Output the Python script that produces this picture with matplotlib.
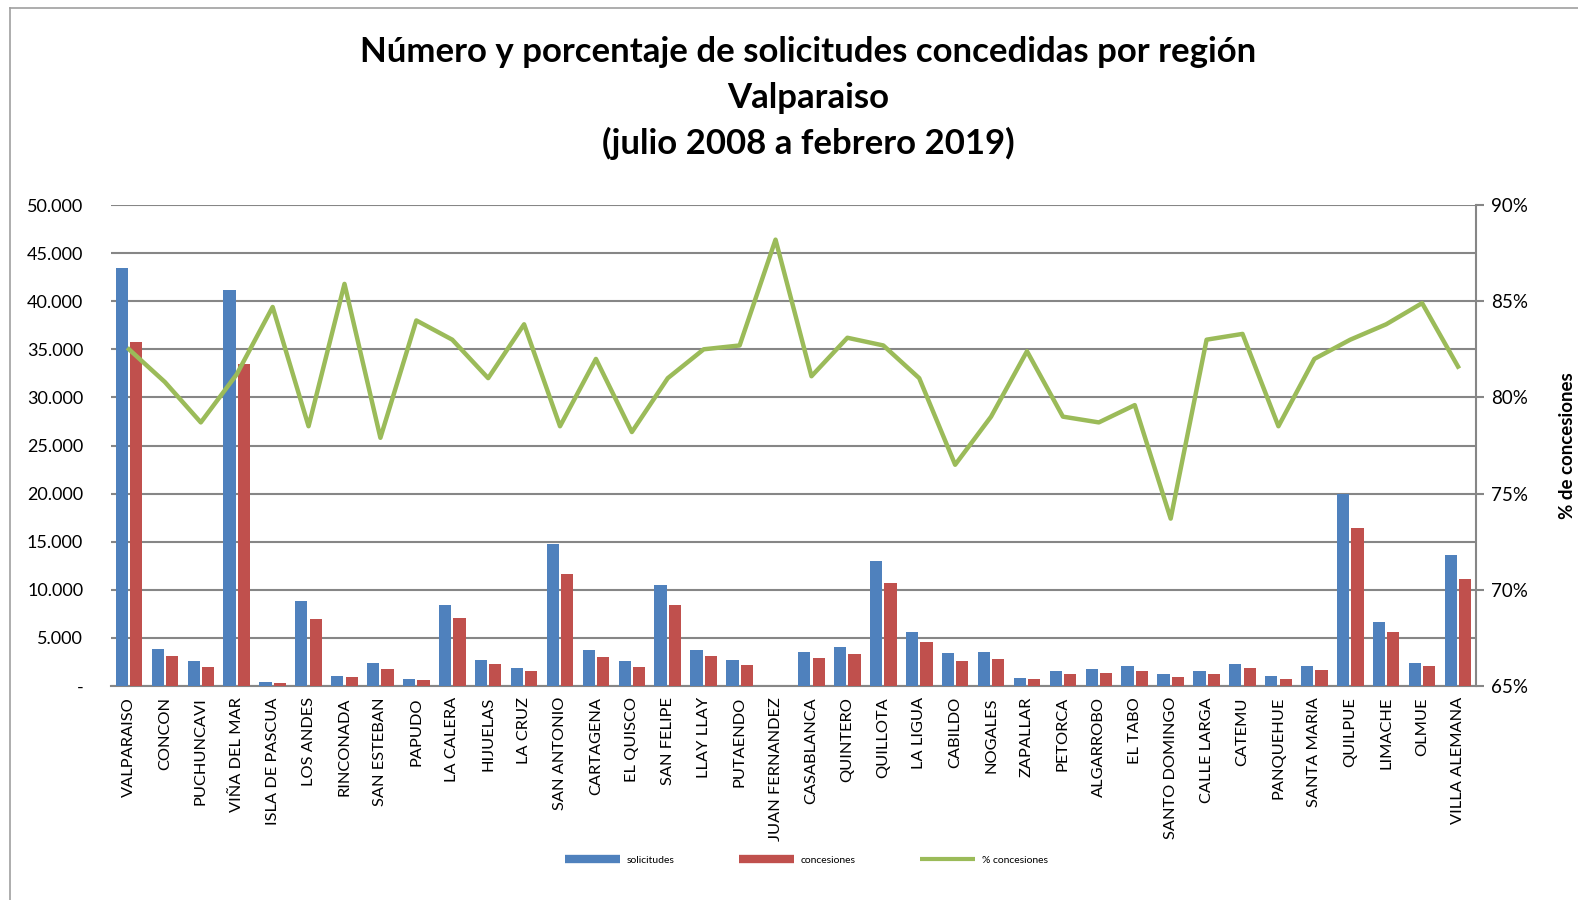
import matplotlib.pyplot as plt
import matplotlib.ticker as mticker
from matplotlib.lines import Line2D
import numpy as np

plt.rcParams['font.family'] = ['Lato', 'DejaVu Sans']

# datos
comunas = ['VALPARAISO', 'CONCON', 'PUCHUNCAVI', 'VIÑA DEL MAR', 'ISLA DE PASCUA',
           'LOS ANDES', 'RINCONADA', 'SAN ESTEBAN', 'PAPUDO', 'LA CALERA', 'HIJUELAS',
           'LA CRUZ', 'SAN ANTONIO', 'CARTAGENA', 'EL QUISCO', 'SAN FELIPE', 'LLAY LLAY',
           'PUTAENDO', 'JUAN FERNANDEZ', 'CASABLANCA', 'QUINTERO', 'QUILLOTA', 'LA LIGUA',
           'CABILDO', 'NOGALES', 'ZAPALLAR', 'PETORCA', 'ALGARROBO', 'EL TABO',
           'SANTO DOMINGO', 'CALLE LARGA', 'CATEMU', 'PANQUEHUE', 'SANTA MARIA',
           'QUILPUE', 'LIMACHE', 'OLMUE', 'VILLA ALEMANA']
solicitudes = [43400, 3820, 2570, 41200, 420, 8850, 1040, 2360, 760, 8470, 2740,
               1910, 14760, 3720, 2640, 10490, 3720, 2670, 17, 3580, 4030, 12990,
               5660, 3400, 3580, 870, 1600, 1770, 2050, 1290, 1530, 2260, 1010,
               2080, 19930, 6700, 2430, 13610]
concesiones = [35800, 3090, 2010, 33500, 350, 6940, 900, 1810, 630, 7050, 2260,
               1600, 11600, 3060, 2010, 8470, 3090, 2220, 15, 2880, 3370, 10690,
               4620, 2600, 2810, 730, 1290, 1390, 1600, 900, 1220, 1880, 760,
               1670, 16460, 5590, 2050, 11110]
pct_concesiones = [82.5, 80.8, 78.7, 81.2, 84.7, 78.5, 85.9, 77.9, 84.0, 83.0, 81.0,
                   83.8, 78.5, 82.0, 78.2, 81.0, 82.5, 82.7, 88.2, 81.1, 83.1, 82.7,
                   81.0, 76.5, 79.0, 82.4, 79.0, 78.7, 79.6, 73.7, 83.0, 83.3, 78.5,
                   82.0, 83.0, 83.8, 84.9, 81.6]

azul = '#4F81BD'
rojo = '#C0504D'
verde = '#9BBB59'
gris = '#868686'

fig = plt.figure(figsize=(15.78, 9), dpi=100)
ax = fig.add_axes([111/1578, 1 - 686/900, (1476 - 111)/1578, (686 - 205)/900])

x = np.arange(len(comunas))
w = 0.34
ax.bar(x - 0.2, solicitudes, w, color=azul, zorder=3)
ax.bar(x + 0.2, concesiones, w, color=rojo, zorder=3)

ax.set_xlim(-0.5, len(comunas) - 0.5)
ax.set_ylim(0, 50000)
ax.set_yticks(np.arange(0, 50001, 5000))
ax.yaxis.set_major_formatter(mticker.FuncFormatter(
    lambda v, p: '-' if v == 0 else f'{int(v):,}'.replace(',', '.')))
ax.grid(axis='y', color=gris, lw=1.5, zorder=0)
ax.set_xticks(x)
ax.set_xticklabels(comunas, rotation=90, fontsize=11.8)
ax.tick_params(axis='x', length=0, pad=8)
ax.tick_params(axis='y', length=0, labelsize=13, pad=20)
for s in ['left', 'top', 'right']:
    ax.spines[s].set_visible(False)
ax.spines['bottom'].set_color(gris)
ax.spines['bottom'].set_linewidth(1.5)

ax2 = ax.twinx()
ax2.plot(x, pct_concesiones, color=verde, lw=3.2, zorder=4)
ax2.set_ylim(65, 90)
ax2.set_yticks(np.arange(65, 91, 5))
ax2.yaxis.set_major_formatter(mticker.FuncFormatter(lambda v, p: f'{int(v)}%'))
ax2.tick_params(axis='y', direction='out', length=6, width=1.5, color=gris,
                labelsize=13.5, pad=5)
for s in ['left', 'top', 'bottom']:
    ax2.spines[s].set_visible(False)
ax2.spines['right'].set_color(gris)
ax2.spines['right'].set_linewidth(1.5)
ax2.set_ylabel('% de concesiones', fontsize=13.5, fontweight='bold', labelpad=22)

# titulo
for txt, yy in [('Número y porcentaje de solicitudes concedidas por región', 52),
                ('Valparaiso', 98),
                ('(julio 2008 a febrero 2019)', 143)]:
    fig.text(0.512, 1 - yy/900, txt, ha='center', va='center',
             fontsize=25, fontweight='bold')

# borde exterior
fig.add_artist(Line2D([10/1578, 10/1578], [0, 1 - 8/900], color='#A0A0A0', lw=1.2))
fig.add_artist(Line2D([10/1578, 1], [1 - 8/900, 1 - 8/900], color='#A0A0A0', lw=1.2))

handles = [Line2D([], [], color=azul, lw=6, solid_capstyle='butt'),
           Line2D([], [], color=rojo, lw=6, solid_capstyle='butt'),
           Line2D([], [], color=verde, lw=3, solid_capstyle='butt')]
fig.legend(handles, ['solicitudes', 'concesiones', '% concesiones'],
           loc='center', bbox_to_anchor=(0.511, 1 - 860/900), ncol=3, frameon=False,
           fontsize=7.5, handlelength=5.3, columnspacing=6.2, handletextpad=0.6)

fig.savefig('out.png', dpi=100)
